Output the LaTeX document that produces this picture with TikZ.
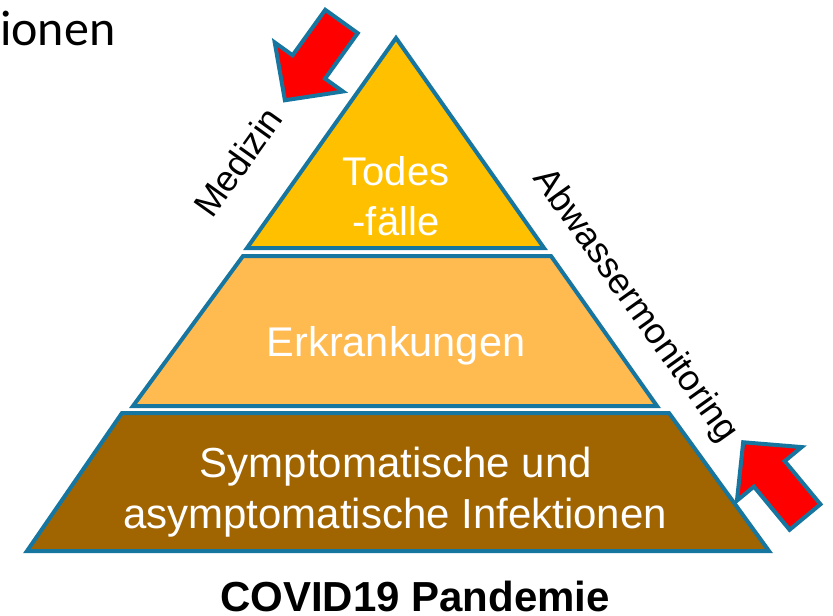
\documentclass[tikz,border=0pt]{standalone}
\usepackage{fontspec}
\setmainfont{Liberation Sans}
\newfontfamily\calib{Carlito}
\definecolor{edge}{RGB}{23,118,160}
\definecolor{topfill}{RGB}{255,192,0}
\definecolor{midfill}{RGB}{255,186,80}
\definecolor{botfill}{RGB}{160,100,0}
\begin{document}
\begin{tikzpicture}[x=1pt,y=1pt,
  layer/.style={draw=edge, line width=4pt, line join=miter},
  lbl/.style={text=white, font=\fontsize{40}{50}\selectfont, inner sep=0pt, anchor=base},
  side/.style={text=black, font=\fontsize{36}{40}\selectfont, inner sep=0pt},
  bigarrow/.style={draw=edge, fill=red, line width=4pt, line join=miter}]
\useasboundingbox (0,0) rectangle (833,-616);
% pyramid layers
\filldraw[layer, fill=topfill] (396,-38) -- (247,-248) -- (544,-248) -- cycle;
\filldraw[layer, fill=midfill] (243,-256) -- (551,-256) -- (657,-406) -- (133,-406) -- cycle;
\filldraw[layer, fill=botfill] (122,-413) -- (669,-413) -- (769,-551) -- (27,-551) -- cycle;
% layer texts
\node[lbl] (todes) at (396,-185) {Todes};
\node[lbl] (faelle) at (396,-235) {-fälle};
\node[lbl, font=\fontsize{41.5}{50}\selectfont] (erkr) at (396,-356) {Erkrankungen};
\node[lbl, font=\fontsize{42}{50}\selectfont] (sympt) at (396,-477) {Symptomatische und};
\node[lbl, font=\fontsize{42}{50}\selectfont] (asympt) at (395,-528) {asymptomatische Infektionen};
% side labels
\node[side, rotate=54.5] (medizin) at (238,-162) {Medizin};
\node[side, rotate=-54.5] (abw) at (635,-306) {Abwassermonitoring};
% title fragments
\node[anchor=base west, inner sep=0pt, font=\calib\fontsize{50}{54}\selectfont] (ionen) at (0,-45) {ionen};
\node[anchor=base, inner sep=0pt, font=\bfseries\fontsize{42}{45}\selectfont] (covid) at (415,-611) {COVID19 Pandemie};
% block arrows
\begin{scope}[shift={(341.5,-21.5)}, rotate=-125.7]
\filldraw[bigarrow] (0,20) -- (56,20) -- (56,42) -- (97,0) -- (56,-42) -- (56,-20) -- (0,-20) -- cycle;
\end{scope}
\begin{scope}[shift={(805,-517)}, rotate=129.6]
\filldraw[bigarrow] (0,20) -- (56,20) -- (56,42) -- (97,0) -- (56,-42) -- (56,-20) -- (0,-20) -- cycle;
\end{scope}
\end{tikzpicture}
\end{document}
